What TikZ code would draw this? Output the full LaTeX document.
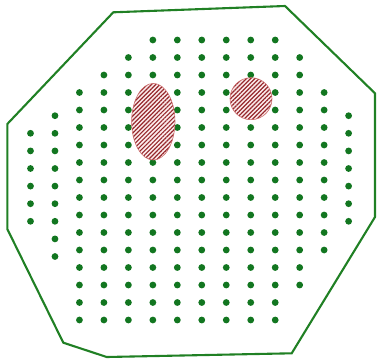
\documentclass[tikz,border=0pt]{standalone}
\usetikzlibrary{patterns.meta}
\definecolor{dotgreen}{RGB}{18,118,32}
\definecolor{linegreen}{RGB}{32,128,36}
\definecolor{hatchred}{RGB}{150,40,45}
\definecolor{pinkbg}{RGB}{252,236,236}
\definecolor{rimred}{RGB}{205,110,110}
\tikzset{
  dotstyle/.style={fill=dotgreen},
  outline/.style={draw=linegreen,line width=2.1pt,line join=miter},
  hatched/.style={draw=rimred,line width=0.6pt,preaction={fill=pinkbg},
    pattern={Lines[angle=45,distance=3pt,line width=1.2pt]},pattern color=hatchred}
}
\begin{document}
\begin{tikzpicture}[x=1pt,y=-1pt]
\useasboundingbox (0,0) rectangle (377,359);
% outline
\draw[outline] (113.3,12.3) -- (285,6) -- (375,93.3) -- (375,217) -- (291.7,353.3)
  -- (106.7,357) -- (63.3,342.7) -- (7.3,229) -- (7.3,124) -- cycle;
% main grid
\foreach \j/\a/\b in {0/5/10,1/4/11,2/3/11,3/2/12,4/2/12,5/2/12,6/2/12,7/2/12,8/2/12,
  9/2/12,10/2/12,11/2/12,12/2/12,13/2/11,14/2/11,15/2/10,16/2/10}{
  \foreach \i in {\a,...,\b}{
    \fill[dotstyle] ({30.5+24.47*\i},{40+17.5*\j}) circle (3.4pt);
  }
}
% offset columns
\foreach \i/\a/\b in {0/1/6,1/0/8,13/0/6}{
  \foreach \k in {\a,...,\b}{
    \fill[dotstyle] ({30.5+24.47*\i},{115.7+17.6*\k}) circle (3.4pt);
  }
}
% hatched regions
\path[hatched] (153.3,121.7) ellipse [x radius=21.7, y radius=38.3];
\path[hatched] (251,98.7) circle (21);
\end{tikzpicture}
\end{document}
